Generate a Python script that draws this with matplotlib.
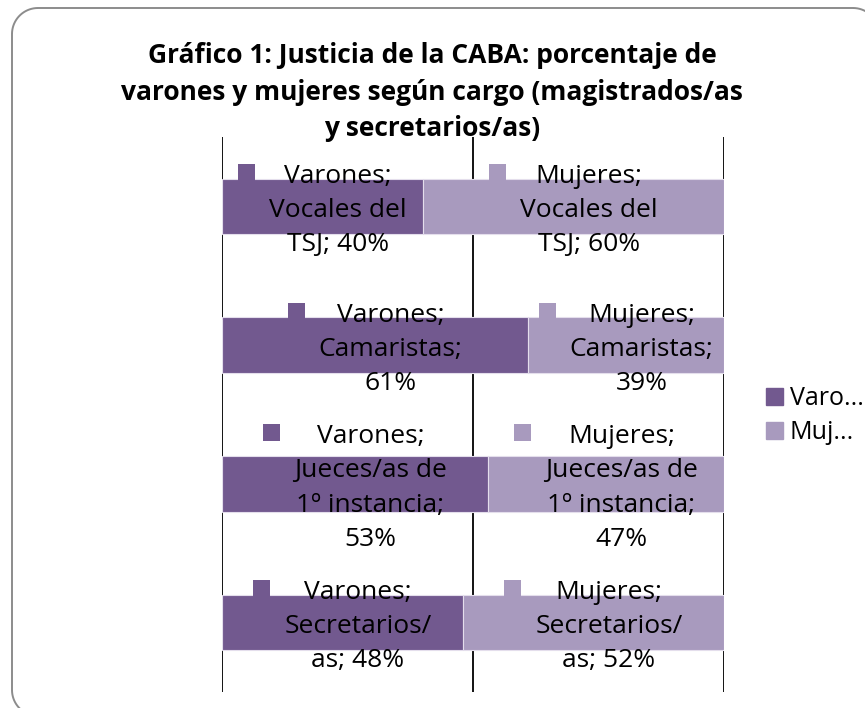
import matplotlib
matplotlib.use('Agg')
import matplotlib.pyplot as plt
from matplotlib.patches import Rectangle, PathPatch
from matplotlib.path import Path
from matplotlib.offsetbox import AnnotationBbox, HPacker, TextArea, DrawingArea
import numpy as np

# datos
categorias = ['Vocales del TSJ', 'Camaristas', 'Jueces/as de 1º instancia', 'Secretarios/as']
etiquetas_cat = ['Vocales del\nTSJ; ', 'Camaristas;\n', 'Jueces/as de\n1º instancia;\n', 'Secretarios/\nas; ']
varones = [40, 61, 53, 48]
mujeres = [60, 39, 47, 52]
series = ['Varones', 'Mujeres']
leyenda = ['Varo...', 'Muj...']
colores = ['#72598F', '#A89ABE']

plt.rcParams['font.family'] = ['Open Sans', 'DejaVu Sans']

fig = plt.figure(figsize=(8.65, 7.08), dpi=100)
W, H = 865, 708

# marco redondeado (en pulgadas), trazo abierto
x0, x1, y0, y1, r = 0.12, 8.79, -0.08, 7.00, 0.26
t = np.linspace(0, np.pi / 2, 20)
pts = []
pts += list(zip(x0 + r - r * np.sin(t), y0 + r - r * np.cos(t)))          # esquina inf. izq.
pts += list(zip(x0 + r - r * np.cos(t), y1 - r + r * np.sin(t)))          # esquina sup. izq.
pts += list(zip(x1 - r + r * np.sin(t), y1 - r + r * np.cos(t)))          # esquina sup. der.
marco = PathPatch(Path(pts), transform=fig.dpi_scale_trans, fill=False,
                  edgecolor='#8c8c8c', linewidth=1.4, zorder=-1)
fig.patches.append(marco)

ax = fig.add_axes([222 / W, 16 / H, (724 - 222) / W, (692 - 137) / H])
ax.set_facecolor('none')

y = np.arange(len(categorias))
total = np.array(varones) + np.array(mujeres)
v = np.array(varones) / total
m = np.array(mujeres) / total

ax.barh(y, v, height=0.4, color=colores[0], edgecolor='#E4DEEC', linewidth=0.8, zorder=2)
ax.barh(y, m, left=v, height=0.4, color=colores[1], edgecolor='#E4DEEC', linewidth=0.8, zorder=2)

ax.set_xlim(0, 1)
ax.set_ylim(3.5, -0.5)
for gx in [0, 0.5, 1]:
    ax.axvline(gx, color='black', linewidth=1.3, zorder=1)
for s in ax.spines.values():
    s.set_visible(False)
ax.set_xticks([])
ax.set_yticks([])

# etiquetas de datos con clave de leyenda
for i in range(len(categorias)):
    for j, (vals, lefts) in enumerate([(v, np.zeros(len(v))), (m, v)]):
        pct = [varones, mujeres][j][i]
        txt = f'{series[j]};\n{etiquetas_cat[i]}{pct}%'
        da = DrawingArea(12.2, 14.5, 0, 0)
        da.add_artist(Rectangle((0, 2.3), 12.2, 12.2, facecolor=colores[j], edgecolor='none'))
        ta = TextArea(txt, textprops=dict(fontsize=19, ha='center', linespacing=1.48, color='black'))
        pack = HPacker(children=[da, ta], align='top', pad=0, sep=10)
        ab = AnnotationBbox(pack, (lefts[i] + vals[i] / 2, y[i]), xycoords='data',
                            xybox=(0, -3), boxcoords='offset points',
                            box_alignment=(0.5, 0.5), frameon=False, pad=0, zorder=5)
        ax.add_artist(ab)

# leyenda
handles = [Rectangle((0, 0), 1, 1, color=c) for c in colores]
fig.legend(handles, leyenda, loc='upper left', bbox_to_anchor=(766 / W, 1 - 386 / H),
           frameon=False, fontsize=18, handlelength=0.66, handleheight=0.66,
           handletextpad=0.3, labelspacing=0.36, borderpad=0, borderaxespad=0)

fig.text(432 / W, 1 - 42 / H,
         'Gráfico 1: Justicia de la CABA: porcentaje de\nvarones y mujeres según cargo (magistrados/as\ny secretarios/as)',
         ha='center', va='top', fontsize=19, fontweight='bold', linespacing=1.46)

fig.savefig('out.png', dpi=100)
